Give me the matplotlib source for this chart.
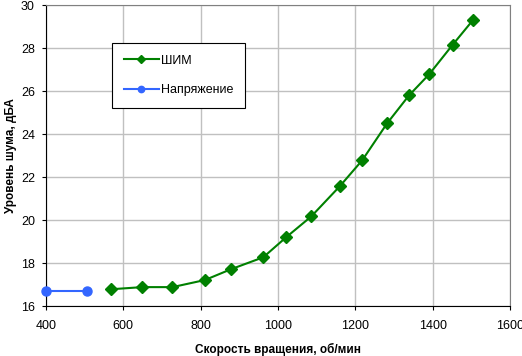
import matplotlib
matplotlib.use("Agg")
import matplotlib.pyplot as plt

plt.rcParams['font.family'] = ['Liberation Sans', 'DejaVu Sans']

# ШИМ (PWM) series
pwm_rpm = [568, 649, 727, 811, 878, 962, 1021, 1086, 1160, 1218, 1282, 1339, 1391, 1452, 1505]
pwm_noise = [16.78, 16.88, 16.88, 17.21, 17.71, 18.27, 19.2, 20.17, 21.58, 22.79, 24.5, 25.81, 26.79, 28.17, 29.33]

# Напряжение (voltage) series
volt_rpm = [400, 505]
volt_noise = [16.7, 16.7]

xticks = [400, 600, 800, 1000, 1200, 1400, 1600]
yticks = [16, 18, 20, 22, 24, 26, 28, 30]

fig = plt.figure(figsize=(5.22, 3.56), dpi=100)
ax = fig.add_axes([0.0881, 0.1404, 0.8889, 0.8446])

ax.plot(pwm_rpm, pwm_noise, color='#008000', lw=1.5, marker='D', ms=6,
        label='ШИМ', clip_on=False, zorder=3)
ax.plot(volt_rpm, volt_noise, color='#3366ff', lw=1.5, marker='o', ms=6.5,
        label='Напряжение', clip_on=False, zorder=3)

ax.set_xlim(400, 1600)
ax.set_ylim(16, 30)
ax.set_xticks(xticks)
ax.set_yticks(yticks)
ax.grid(True, color='#c0c0c0', lw=1)
ax.set_axisbelow(True)

for s in ['top', 'right']:
    ax.spines[s].set_color('#808080')
for s in ['left', 'bottom']:
    ax.spines[s].set_color('black')
ax.tick_params(direction='out', length=3, labelsize=9, colors='black')
ax.tick_params(axis='x', pad=7)
ax.tick_params(axis='y', pad=5)

ax.set_xlabel('Скорость вращения, об/мин', fontsize=8.5, fontweight='bold', labelpad=8)
ax.set_ylabel('Уровень шума, дБА', fontsize=8.5, fontweight='bold', labelpad=3)

leg = ax.legend(loc='upper left', bbox_to_anchor=(0.1416, 0.875), fontsize=9,
                frameon=True, fancybox=False, edgecolor='black', framealpha=1,
                markerscale=0.7, handlelength=2.8, labelspacing=1.4,
                borderpad=0.95, handletextpad=0.2, borderaxespad=0)
leg.get_frame().set_linewidth(0.8)

fig.savefig('out.png', dpi=100)
